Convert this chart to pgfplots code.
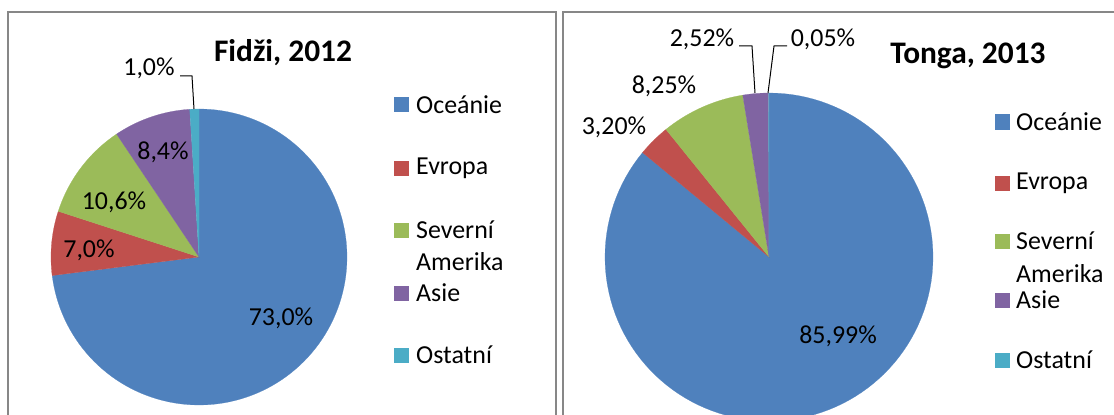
\documentclass[border=0pt]{standalone}
\usepackage{fontspec}
\setmainfont{Carlito}
\usepackage{pgfplots}
\pgfplotsset{compat=1.18}
\definecolor{cOce}{HTML}{4F81BD}
\definecolor{cEvr}{HTML}{C0504D}
\definecolor{cSev}{HTML}{9BBB59}
\definecolor{cAsi}{HTML}{8064A2}
\definecolor{cOst}{HTML}{4BACC6}
\definecolor{frame}{HTML}{878787}
% sector: center x, center y, radius, start cumulative %, end cumulative %, colour
\newcommand\sector[6]{%
  \addplot[fill=#6, draw=#6, line width=0.2bp, domain=#4:#5, samples=120, variable=\t]
    ({#1+#3*cos(90-3.6*\t)}, {#2-#3*sin(90-3.6*\t)}) -- (#1,#2) -- cycle;
}
\newcommand\lab[3]{\node[font=\fontsize{26}{31}\selectfont, inner sep=0pt] at (#1,#2) {#3};}
\newcommand\legsq[3]{\fill[#3] (#1,#2-7.5) rectangle (#1+15,#2+7.5);}
\newcommand\legtx[3]{\node[font=\fontsize{26}{31}\selectfont, anchor=west, inner sep=0pt] at (#1,#2) {#3};}
\begin{document}
\begin{tikzpicture}
\begin{axis}[
  width=1114bp, height=415bp, scale only axis,
  xmin=0, xmax=1114, ymin=0, ymax=415, y dir=reverse,
  hide axis, clip=true,
]
% ---- Fidzi 2012: Oceanie 73.0, Evropa 7.0, Severni Amerika 10.6, Asie 8.4, Ostatni 1.0
\sector{199}{257}{148}{0}{73.0}{cOce}
\sector{199}{257}{148}{73.0}{80.0}{cEvr}
\sector{199}{257}{148}{80.0}{90.6}{cSev}
\sector{199}{257}{148}{90.6}{99.0}{cAsi}
\sector{199}{257}{148}{99.0}{100.0}{cOst}
% ---- Tonga 2013: Oceanie 85.99, Evropa 3.20, Severni Amerika 8.25, Asie 2.52, Ostatni 0.05
\sector{769}{257}{164}{0}{85.99}{cOce}
\sector{769}{257}{164}{85.99}{89.19}{cEvr}
\sector{769}{257}{164}{89.19}{97.44}{cSev}
\sector{769}{257}{164}{97.44}{99.96}{cAsi}
\sector{769}{257}{164}{99.96}{100.01}{cOst}
% frames
\draw[frame, line width=2bp] (8,415) -- (8,12) -- (556,12) -- (556,415);
\draw[frame, line width=2bp] (563,415) -- (563,12) -- (1114,12);
% titles
\node[font=\fontsize{31.5}{38}\selectfont\bfseries] at (283,53) {Fidži, 2012};
\node[font=\fontsize{31.5}{38}\selectfont\bfseries] at (968,56) {Tonga, 2013};
% leader lines
\draw[black, line width=1bp] (180,76) -- (192,76) -- (194,109);
\draw[black, line width=1bp] (739,46) -- (752,46) -- (755,93);
\draw[black, line width=1bp] (787,46) -- (774,46) -- (768,93);
% data labels
\lab{149}{68}{1,0\%}
\lab{163}{152}{8,4\%}
\lab{114}{202}{10,6\%}
\lab{89}{250}{7,0\%}
\lab{281}{318}{73,0\%}
\lab{702}{39}{2,52\%}
\lab{823}{39}{0,05\%}
\lab{664}{86}{8,25\%}
\lab{614}{127}{3,20\%}
\lab{838}{336}{85,99\%}
% legends
\legsq{394}{105}{cOce}\legtx{416}{105}{Oceánie}
\legsq{394}{168}{cEvr}\legtx{416}{168}{Evropa}
\legsq{394}{230}{cSev}\legtx{416}{230}{Severní}
\legtx{416}{262}{Amerika}
\legsq{394}{293}{cAsi}\legtx{416}{293}{Asie}
\legsq{394}{355}{cOst}\legtx{416}{355}{Ostatní}
\legsq{995}{122}{cOce}\legtx{1016}{122}{Oceánie}
\legsq{995}{183}{cEvr}\legtx{1016}{183}{Evropa}
\legsq{995}{241}{cSev}\legtx{1016}{241}{Severní}
\legtx{1016}{274}{Amerika}
\legsq{995}{300}{cAsi}\legtx{1016}{300}{Asie}
\legsq{995}{360}{cOst}\legtx{1016}{360}{Ostatní}
\end{axis}
\path (0,0) rectangle (1114bp,415bp);
\end{tikzpicture}
\end{document}
